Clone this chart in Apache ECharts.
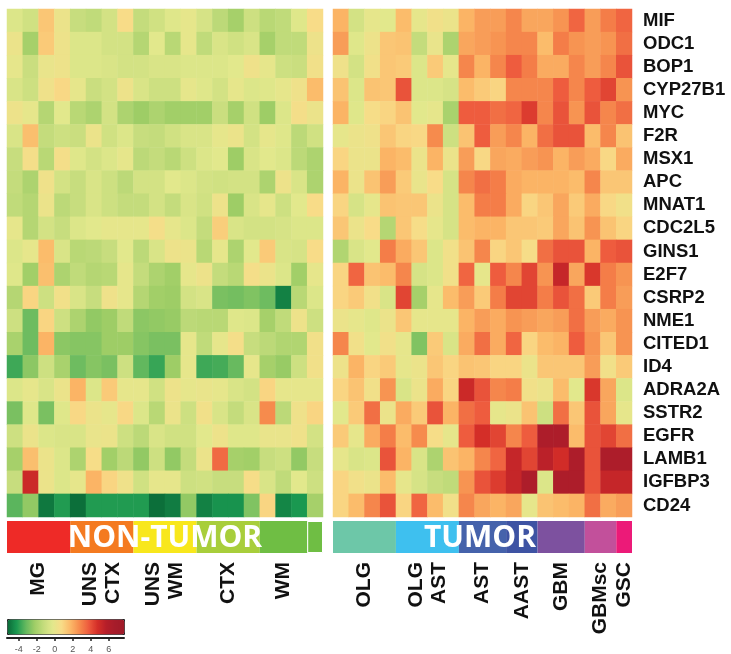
<!DOCTYPE html>
<html><head><meta charset="utf-8">
<script src="https://cdn.jsdelivr.net/npm/echarts@6/dist/echarts.min.js"></script>
<style>html,body{margin:0;padding:0;background:#fff}#c{width:731px;height:654px}</style>
</head><body><div id="c"></div>
<script>
const genes = ['MIF','ODC1','BOP1','CYP27B1','MYC','F2R','MSX1','APC','MNAT1','CDC2L5','GINS1','E2F7','CSRP2','NME1','CITED1','ID4','ADRA2A','SSTR2','EGFR','LAMB1','IGFBP3','CD24'];

const nonTumorGroups = ['MG','UNS\nCTX','UNS\nWM','CTX','WM',''];
const nonTumorGroupSizes = [4,4,4,4,3,1];
const nonTumorGroupColors = ['#ee2a27','#f47a20','#f8e71c','#a8ce3b','#6fbe44','#6fbe44'];

const tumorGroups = ['OLG','OLG\nAST','AST','AAST','GBM','GBMsc','GSC'];
const tumorGroupSizes = [4,4,3,2,3,2,1];
const tumorGroupColors = ['#6dc7a8','#3ec0ef','#4562ab','#3e53a3','#7d519f','#c2509b','#ec1a78'];

const colorbarTicks = [-4,-2,0,2,4,6];

const nonTumorValues = [
[-0.5,-0.9,1.3,0.1,-1.2,-1.4,-0.8,0.7,-1.3,-0.9,-0.4,-0.1,-0.7,-1.5,-2.1,-1.0,-1.6,-1.4,-0.4,0.7],
[0.1,-2.1,1.2,0.2,-0.5,-0.5,-0.8,-0.8,-1.7,-0.3,-1.6,-0.1,-1.4,-0.6,-0.9,-0.6,-2.1,-1.4,-1.4,0.2],
[-0.1,-1.1,0,0.2,-0.5,-0.5,-0.6,-0.8,-0.8,-0.6,-0.6,-0.5,-0.5,-0.5,-0.3,0.3,-0.1,-1.0,-1.1,0.4],
[-0.6,-1.0,0.3,0.8,-0.1,-1.1,-0.8,0.2,-0.6,-1.0,-1.0,-0.1,-0.4,-0.8,-0.1,-0.5,-0.4,-0.1,0.3,1.6],
[0.2,-0.1,-1.7,-0.3,-1.6,-1.9,-0.8,-1.9,-2.3,-1.9,-2.2,-2.2,-2.2,-1.1,-2.1,-0.9,-2.3,-0.5,0.5,0.1],
[-0.6,1.5,-1.3,-1.0,-1.1,0.1,-0.9,-0.5,-1.2,-1.3,-0.9,-0.6,-0.6,-0.1,0.1,-0.8,-0.1,-0.4,-1.5,-0.9],
[-1.2,0.5,-1.6,0.5,-0.4,-0.8,-0.5,-0.1,-1.5,-1.3,-1.6,-1.0,-0.5,-0.3,-2.3,-0.6,-0.3,-0.5,-1.5,-1.9],
[-1.3,-1.9,0.3,-0.8,-1.2,-0.6,-1.0,-1.5,-0.8,-0.8,-0.3,-0.5,-0.8,-0.9,-0.8,-0.8,-1.9,0.2,-0.6,-1.9],
[-1.4,-1.7,0.1,-1.5,-1.2,-0.6,-1.0,-1.3,-1.3,-0.8,-1.3,-0.6,-0.9,0.2,-2.3,-0.6,-0.1,-1.0,-0.3,0.7],
[-0.1,-1.7,-0.8,-1.2,-0.5,-0.3,-0.1,-0.1,-0.1,0.5,-0.1,-0.5,-1.3,1.1,-0.6,-0.8,-0.8,-0.7,-0.5,-0.5],
[-0.5,-0.1,1.6,-0.6,-1.6,-1.5,-1.2,-0.3,-1.5,-0.6,0.2,0.1,-1.6,-0.1,-1.9,-0.3,1.2,-0.6,-0.7,0.7],
[-0.4,-2.2,1.5,-1.9,-1.4,-1.7,-1.6,-0.1,-1.3,-1.9,-2.2,-0.1,0.2,-1.3,-1.6,0.5,0.1,-0.5,-2.2,-0.1],
[-1.7,0.9,-1.0,0.4,-0.6,-1.2,0.3,-0.1,-1.7,-2.2,-2.3,-0.8,-0.6,-2.9,-3.0,-2.8,-3.1,-4.8,-1.6,-0.5],
[-1.0,-3.1,0.9,-1.0,-1.9,-2.5,-2.3,-1.4,-2.6,-2.5,-2.4,-1.5,-1.6,-1.6,-0.4,-0.5,-2.1,-1.4,0.2,-1.0],
[-2.0,-3.1,1.8,-2.6,-2.7,-2.7,-2.3,-2.3,-2.7,-2.9,-2.9,-0.1,-1.4,-0.1,0.5,-1.2,-1.5,-1.8,-1.8,0.4],
[-3.8,-2.6,-1.0,-2.0,-3.1,-2.7,-2.9,-1.0,-3.3,-3.9,-2.3,-0.1,-3.8,-3.7,-3.2,-0.1,-2.1,-2.4,-1.0,0.4],
[-0.5,-0.1,-0.6,0.1,1.8,-0.5,1.2,-0.1,-0.1,-0.9,0.2,-0.1,0,-0.1,-0.6,-0.8,0.9,-0.1,-0.1,-0.1],
[-2.9,-0.4,-2.9,-0.4,0.8,0.1,-0.1,0.8,-0.5,-1.6,0.1,-1.0,0.4,-0.6,-1.3,-0.6,2.7,-1.5,0.3,0.9],
[-1.0,0.1,-0.5,-0.6,-0.6,0,0.1,-1.0,-1.5,-0.6,-0.9,-0.9,-0.3,0.2,-0.4,-0.4,0,0,0.3,-0.8],
[-2.1,1.5,0.1,-0.5,-1.9,0.6,-2.2,-1.5,-2.5,-1.0,-2.5,-1.3,0.1,3.4,-2.1,-2.2,-1.2,-1.0,-2.5,-1.2],
[-1.2,5.0,0.1,-0.5,-0.1,1.8,0.9,0.3,-0.9,-0.1,-0.1,-1.0,-0.9,-1.2,-1.2,0.6,-0.6,-1.4,-0.3,-1.0],
[-3.4,-2.5,-5.0,-4.2,-5.2,-4.2,-4.2,-4.2,-4.2,-5.2,-4.9,-2.5,-4.8,-4.4,-4.4,-2.8,0.9,-4.7,-4.3,-2.1]
];

const tumorValues = [
[1.8,-0.8,-0.1,-0.3,1.6,-0.1,0.4,0.1,1.8,2.3,2.3,2.8,2.1,2.1,2.5,3.5,2.3,3.0,3.5],
[2.3,-0.4,0.2,1.3,1.4,-1.3,0,-1.9,2.1,2.3,2.5,2.8,2.8,1.6,3.0,2.5,2.3,2.5,3.3],
[0.3,-0.8,0.4,1.3,1.2,-0.5,1.2,-0.1,2.8,1.8,2.8,3.7,3.0,2.0,2.0,2.8,2.3,2.8,3.9],
[1.4,-0.5,1.4,1.3,3.9,-0.5,-0.5,-0.7,1.6,1.2,0.9,2.8,2.8,2.8,3.7,2.8,3.7,4.2,2.5],
[1.8,-0.4,0.6,0.9,1.4,-0.3,-0.1,-2.0,3.7,3.7,3.3,3.5,4.4,2.8,3.9,2.5,3.9,2.8,3.3],
[-0.1,0.1,0.3,1.3,0.9,0.8,2.7,-1.0,1.4,3.7,2.3,2.8,1.8,3.3,3.9,3.9,1.6,2.8,1.4],
[0.9,0.1,0.1,1.8,1.6,0.1,1.8,0.1,2.3,0.8,2.1,2.0,2.3,2.5,1.8,2.3,2.0,0.8,2.0],
[1.8,0.1,1.4,2.3,1.2,0,0.7,-0.7,2.8,3.3,3.0,2.0,1.8,1.8,1.8,1.6,2.8,1.3,1.3],
[0.9,-0.7,-0.1,1.4,1.3,1.3,0.1,-0.7,1.6,3.0,3.0,2.0,0.9,1.3,2.1,1.2,2.0,0.8,0.4],
[1.3,0.1,0.7,-1.7,1.3,0.6,-0.1,-0.7,1.6,1.8,1.8,1.3,1.3,1.2,2.1,1.4,2.5,1.4,0.9],
[-1.8,-0.6,-0.3,3.0,2.0,1.3,-0.5,0.4,1.4,2.8,0.9,1.3,0.6,3.3,3.9,3.9,1.8,3.7,3.9],
[0.9,3.5,1.4,1.6,2.8,-0.7,-0.5,0.4,3.5,-0.1,3.7,2.8,4.2,2.5,5.2,2.1,4.5,3.0,2.5],
[0.9,1.2,0.4,-0.6,4.2,-2.1,-0.1,1.6,2.3,1.2,3.0,4.2,4.2,3.0,3.9,3.3,1.2,3.0,2.3],
[0.1,-0.1,-0.4,0.1,1.3,-0.1,-0.1,-0.1,1.8,2.3,2.0,2.5,2.3,2.1,2.3,3.3,2.3,2.0,2.5],
[2.8,0.4,-0.3,0.4,-0.1,-2.8,1.2,-0.6,2.0,3.3,2.0,3.5,0.9,1.6,1.8,3.7,2.5,1.3,2.5],
[0.2,1.8,0.9,1.2,-0.1,0.1,1.3,0.9,1.4,1.3,0.9,0.9,0.1,1.3,1.3,1.3,2.3,0.4,1.2],
[0.9,1.4,0.4,2.5,-0.6,0.1,2.0,0.9,5.0,3.9,2.8,3.0,0.4,0.1,1.6,-0.3,4.5,2.1,-0.5],
[-0.3,1.2,3.3,0.1,2.0,1.2,3.9,1.8,3.3,3.7,-0.1,0.1,1.4,-1.0,3.3,1.3,3.9,2.1,-0.1],
[1.2,-0.1,2.0,3.0,1.6,2.7,0.6,-0.1,3.7,4.7,4.2,2.8,3.7,6.2,6.2,1.6,3.9,4.2,3.3],
[-0.1,-0.6,-0.5,3.9,1.8,-0.6,-1.9,1.4,1.8,2.8,3.5,5.2,4.2,5.5,4.8,6.2,3.9,6.2,6.2],
[0.9,0.4,0.1,1.6,-0.1,-0.7,-1.2,-1.4,2.5,3.9,4.4,5.2,6.2,-0.5,6.2,6.2,3.9,5.2,5.2],
[0.9,1.6,2.8,3.9,0.9,3.5,1.6,0.4,2.8,2.1,1.8,2.1,-0.1,1.4,1.6,1.8,3.3,2.0,2.3]
];

const colorStops = ['#0b6a38','#1a9850','#62b85e','#9ecd66','#c4dc7c','#e2e88c','#f8dc88','#fbb868','#f68b4d','#ee5c3e','#d42e28','#b51e29','#a51c2a','#a01a28'];

function toCells(rows){
  const out=[];
  rows.forEach((r,yi)=>r.forEach((v,xi)=>out.push([xi,yi,v])));
  return out;
}
const sum = a => a.reduce((s,v)=>s+v,0);
const idx = n => Array.from({length:n},(_,i)=>i);

const FONT = 'Liberation Sans, Arial, sans-serif';
const nL = nonTumorValues[0].length, nR = tumorValues[0].length;

function groupSeries(names, sizes, colors, axisIdx, stack){
  return names.map((g,i)=>({
    type:'bar', xAxisIndex:axisIdx, yAxisIndex:axisIdx, stack:stack,
    barWidth:'100%', data:[sizes[i]], silent:true,
    itemStyle:{color:colors[i], borderColor: (stack==='L' && i===names.length-1)?'#fff':colors[i], borderWidth:(stack==='L' && i===names.length-1)?1:0},
    label:{show:g!=='', formatter:g, position:'bottom', distance:9, rotate:90, align:'right', verticalAlign:'middle',
      color:'#111', fontSize:21, fontWeight:'bold', fontFamily:FONT, lineHeight:23}
  }));
}

const chart = echarts.init(document.getElementById('c'), null, {renderer:'canvas'});
chart.setOption({
  animation:false,
  grid:[
    {left:7, top:9, width:316, height:508},
    {left:333, top:9, width:299, height:508},
    {left:7, top:521, width:316, height:32},
    {left:333, top:521, width:299, height:32},
    {left:7, top:637, width:117, height:1}
  ],
  xAxis:[
    {type:'category', gridIndex:0, data:idx(nL), show:false},
    {type:'category', gridIndex:1, data:idx(nR), show:false},
    {type:'value', gridIndex:2, min:0, max:sum(nonTumorGroupSizes), show:false},
    {type:'value', gridIndex:3, min:0, max:sum(tumorGroupSizes), show:false},
    {type:'value', gridIndex:4, min:-5.3, max:7.7,
      axisLine:{show:true, lineStyle:{color:'#222', width:2}},
      axisTick:{show:true, customValues:colorbarTicks, length:3, lineStyle:{color:'#222', width:1.5}},
      axisLabel:{show:true, customValues:colorbarTicks, fontSize:9, color:'#555', margin:7, fontFamily:FONT},
      splitLine:{show:false}}
  ],
  yAxis:[
    {type:'category', gridIndex:0, data:genes, inverse:true, show:false},
    {type:'category', gridIndex:1, data:genes, inverse:true, position:'right',
      axisLine:{show:false}, axisTick:{show:false},
      axisLabel:{show:true, interval:0, margin:11, color:'#111', fontSize:18.5, fontWeight:'bold', fontFamily:FONT}},
    {type:'category', gridIndex:2, data:['g'], show:false},
    {type:'category', gridIndex:3, data:['g'], show:false},
    {type:'value', gridIndex:4, show:false}
  ],
  visualMap:{
    type:'continuous', orient:'horizontal', left:7, top:619, itemWidth:15, itemHeight:117,
    min:-5.3, max:7.7, calculable:false, seriesIndex:[0,1], padding:0,
    borderColor:'#222', borderWidth:1,
    inRange:{color:colorStops}
  },
  graphic:[
    {type:'text', z:100, x:165, y:538, style:{text:'NON-TUMOR', fill:'#fff', font:'bold 30px "Open Sans", sans-serif', align:'center', verticalAlign:'middle'}},
    {type:'text', z:100, x:480, y:538, style:{text:'TUMOR', fill:'#fff', font:'bold 30px "Open Sans", sans-serif', align:'center', verticalAlign:'middle'}}
  ],
  series:[
    {type:'heatmap', xAxisIndex:0, yAxisIndex:0, data:toCells(nonTumorValues), itemStyle:{borderWidth:0}},
    {type:'heatmap', xAxisIndex:1, yAxisIndex:1, data:toCells(tumorValues), itemStyle:{borderWidth:0}},
    ...groupSeries(nonTumorGroups, nonTumorGroupSizes, nonTumorGroupColors, 2, 'L'),
    ...groupSeries(tumorGroups, tumorGroupSizes, tumorGroupColors, 3, 'R')
  ]
});
</script></body></html>
